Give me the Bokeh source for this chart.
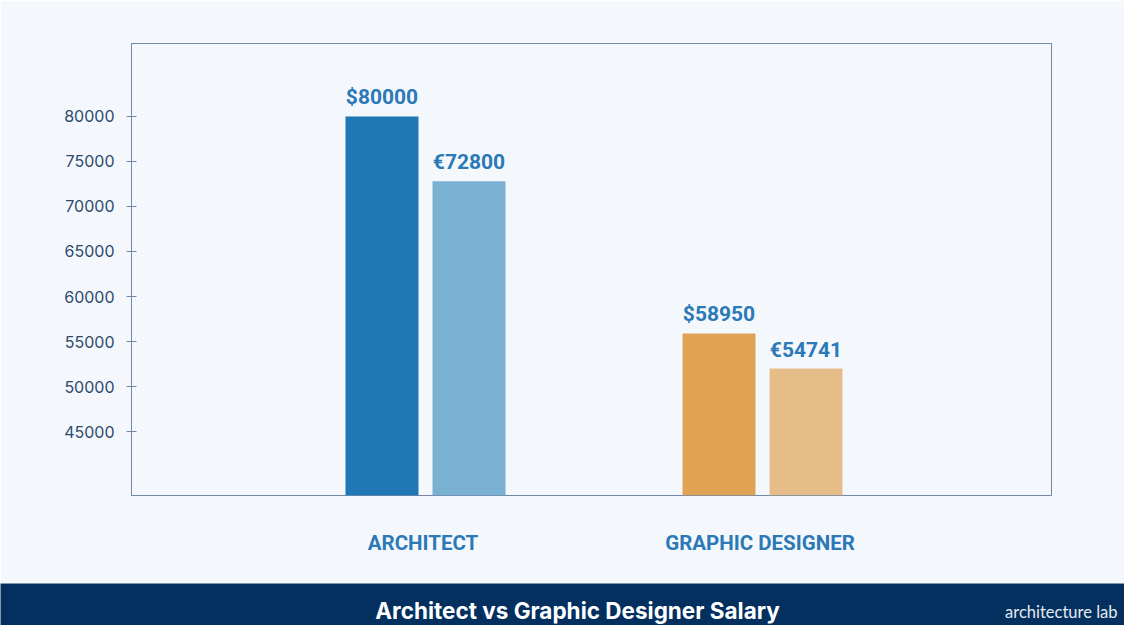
from bokeh.plotting import figure
from bokeh.models import FactorRange, Range1d, FixedTicker, ColumnDataSource, Label
from bokeh.transform import dodge
from bokeh.layouts import column
from bokeh.core.properties import value
from bokeh.embed import file_html
from bokeh.resources import INLINE

# ---- data ----
categories = ["ARCHITECT", "GRAPHIC DESIGNER"]
usd_values = [80000, 55900]
eur_values = [72800, 52000]
usd_labels = ["$80000", "$58950"]
eur_labels = ["€72800", "€54741"]
usd_colors = ["#1f77b4", "#e0a354"]
eur_colors = ["#7ab0d2", "#e6bd89"]
y_ticks = [45000, 50000, 55000, 60000, 65000, 70000, 75000, 80000]
title_text = "Architect vs Graphic Designer Salary"
logo_text = "architecture lab"

BG = "#f4f8fd"
NAVY = "#03305f"
BLUE_TXT = "#2b79b6"
AXIS_COL = "#7288a6"

src = ColumnDataSource(dict(cat=categories, usd=usd_values, eur=eur_values,
                            usd_lab=usd_labels, eur_lab=eur_labels,
                            usd_col=usd_colors, eur_col=eur_colors))

p = figure(width=1124, height=583, output_backend="svg", toolbar_location=None,
           x_range=FactorRange(*categories, range_padding=0.365, range_padding_units="absolute"),
           y_range=Range1d(37900, 88100))
p.min_border_left = 131
p.min_border_top = 43
p.min_border_right = 73
p.min_border_bottom = 88
p.background_fill_color = BG
p.border_fill_color = BG
p.outline_line_color = AXIS_COL
p.outline_line_width = 1
p.grid.visible = False

off_usd = -0.1217
off_eur = 0.1365
w = 0.2166
p.vbar(x=dodge("cat", off_usd, range=p.x_range), top="usd", width=w, bottom=0,
       source=src, fill_color="usd_col", line_color=None)
p.vbar(x=dodge("cat", off_eur, range=p.x_range), top="eur", width=w, bottom=0,
       source=src, fill_color="eur_col", line_color=None)

p.text(x=dodge("cat", off_usd, range=p.x_range), y="usd", text="usd_lab", source=src,
       text_align="center", text_baseline="bottom", y_offset=-7,
       text_font=value("Roboto"), text_font_style="bold", text_font_size="21px",
       text_color=BLUE_TXT)
p.text(x=dodge("cat", off_eur, range=p.x_range), y="eur", text="eur_lab", source=src,
       text_align="center", text_baseline="bottom", y_offset=-7,
       text_font=value("Roboto"), text_font_style="bold", text_font_size="21px",
       text_color=BLUE_TXT)

# y axis
p.yaxis.ticker = FixedTicker(ticks=y_ticks)
p.yaxis.minor_tick_line_color = None
p.yaxis.major_tick_in = 5
p.yaxis.major_tick_out = 5
p.yaxis.major_tick_line_color = AXIS_COL
p.yaxis.axis_line_color = AXIS_COL
p.yaxis.major_label_standoff = 12
p.yaxis.major_label_text_font = "Inter"
p.yaxis.major_label_text_font_size = "16px"
p.yaxis.major_label_text_color = "#2d4a6e"

# x axis
p.xaxis.axis_line_color = None
p.xaxis.major_tick_line_color = None
p.xaxis.minor_tick_line_color = None
p.xaxis.major_tick_in = 0
p.xaxis.major_tick_out = 0
p.xaxis.major_label_standoff = 35
p.xaxis.major_label_text_font = "Roboto"
p.xaxis.major_label_text_font_style = "bold"
p.xaxis.major_label_text_font_size = "20.5px"
p.xaxis.major_label_text_color = BLUE_TXT

# banner
b = figure(width=1124, height=42, output_backend="svg", toolbar_location=None,
           x_range=Range1d(0, 1), y_range=Range1d(0, 1),
           x_axis_type=None, y_axis_type=None)
b.min_border = 0
b.background_fill_color = NAVY
b.border_fill_color = NAVY
b.outline_line_color = None
b.grid.visible = False
b.add_layout(Label(x=577, y=15, x_units="screen", y_units="screen", text=title_text,
                   text_align="center", text_baseline="middle",
                   text_font="Inter", text_font_style="bold", text_font_size="22.5px",
                   text_color="white"))
b.add_layout(Label(x=1117, y=14, x_units="screen", y_units="screen", text=logo_text,
                   text_align="right", text_baseline="middle",
                   text_font="Lato", text_font_size="16.5px",
                   text_color="#e4eaf1"))

layout = column(column(p), column(b), spacing=0)
open("out.html", "w").write(file_html(layout, INLINE))
